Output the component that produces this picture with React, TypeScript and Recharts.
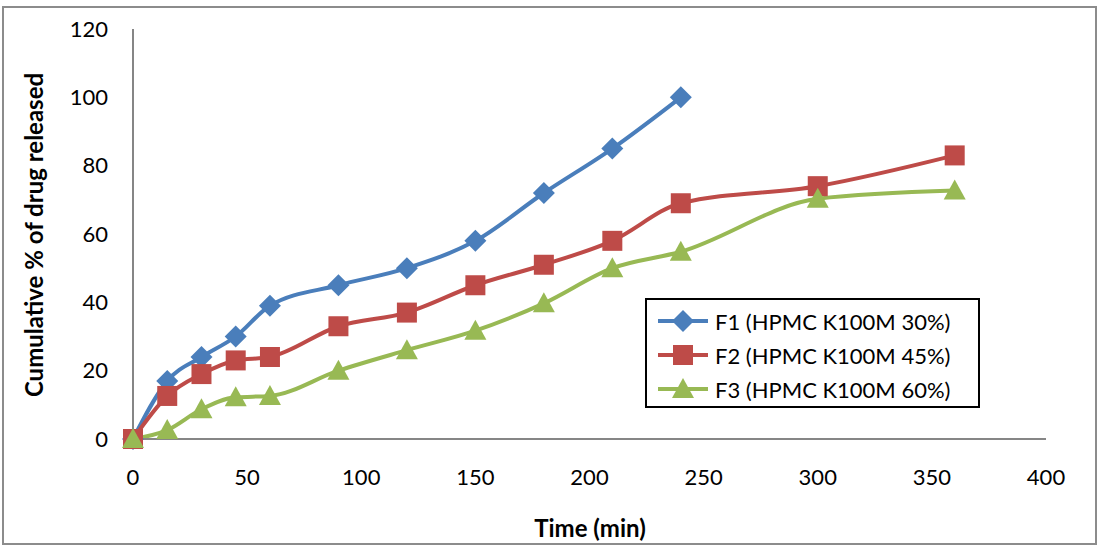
import React from "react";
import { LineChart, Line, XAxis, YAxis } from "recharts";

const times = [0, 15, 30, 45, 60, 90, 120, 150, 180, 210, 240, 300, 360];
const f1 = [0, 17, 24, 30, 39, 45, 50, 58, 72, 85, 100];
const f2 = [0, 12.6, 19, 23, 24, 33, 37, 45, 51, 58, 69, 74, 83];
const f3 = [0, 2.6, 8.7, 12.2, 12.6, 20, 26, 31.7, 39.7, 50, 54.8, 70.3, 72.7];
const xTicks = [0, 50, 100, 150, 200, 250, 300, 350, 400];
const yTicks = [0, 20, 40, 60, 80, 100, 120];

const names = ["F1 (HPMC K100M 30%)", "F2 (HPMC K100M 45%)", "F3 (HPMC K100M 60%)"];
const colors = ["#4A7EBB", "#BE4B48", "#98B954"];

const data = times.map((t, i) => ({ t, f1: f1[i], f2: f2[i], f3: f3[i] }));

const FONT = "Lato, 'Open Sans', sans-serif";

function Marker({ kind, cx, cy, color }: { kind: number; cx: number; cy: number; color: string }) {
  if (cx == null || cy == null) return null;
  if (kind === 0) {
    const r = 11;
    return <polygon points={`${cx},${cy - r} ${cx + r},${cy} ${cx},${cy + r} ${cx - r},${cy}`} fill={color} />;
  }
  if (kind === 1) {
    const s = 10;
    return <rect x={cx - s} y={cy - s} width={s * 2} height={s * 2} fill={color} />;
  }
  const w = 11;
  return <polygon points={`${cx},${cy - 11} ${cx + w},${cy + 9} ${cx - w},${cy + 9}`} fill={color} />;
}

const dotFor = (kind: number) => (props: any) => (
  <Marker key={`${kind}-${props.index}`} kind={kind} cx={props.cx} cy={props.cy} color={colors[kind]} />
);

const LegendBox = () => (
  <div
    style={{
      position: "absolute",
      left: 645,
      top: 298,
      border: "2px solid #000",
      background: "#fff",
      width: 335,
      height: 110,
      boxSizing: "border-box",
      padding: "4px 0 0 8px",
      fontFamily: FONT,
      fontSize: 22,
      color: "#000",
    }}
  >
    {names.map((n, i) => (
      <div key={n} style={{ display: "flex", alignItems: "center", height: 34 }}>
        <svg width={56} height={26}>
          <line x1={3} y1={13} x2={53} y2={13} stroke={colors[i]} strokeWidth={4} />
          <Marker kind={i} cx={28} cy={13} color={colors[i]} />
        </svg>
        <span style={{ marginLeft: 4 }}>{n}</span>
      </div>
    ))}
  </div>
);

export default function App() {
  return (
    <div style={{ position: "absolute", left: 0, top: 0, width: 1099, height: 547, background: "#fff" }}>
      <div
        style={{
          position: "absolute",
          left: 2,
          top: 6,
          width: 1095,
          height: 539,
          border: "2px solid #8c8c8c",
          boxSizing: "border-box",
        }}
      />
      <LineChart
        width={1099}
        height={547}
        data={data}
        margin={{ top: 29, right: 53, bottom: 0, left: 43 }}
        style={{ position: "absolute", left: 0, top: 0 }}
      >
        <XAxis
          dataKey="t"
          type="number"
          domain={[0, 400]}
          ticks={xTicks}
          tickSize={0}
          tickMargin={30}
          axisLine={{ stroke: "#868686", strokeWidth: 2 }}
          tick={{ fill: "#000", fontSize: 22, fontFamily: FONT }}
          height={108}
        />
        <YAxis
          type="number"
          domain={[0, 120]}
          ticks={yTicks}
          width={90}
          tickSize={0}
          tickMargin={25}
          axisLine={{ stroke: "#868686", strokeWidth: 2 }}
          tick={{ fill: "#000", fontSize: 22, fontFamily: FONT }}
        />
        <Line type="monotone" dataKey="f1" name={names[0]} stroke={colors[0]} strokeWidth={4} dot={dotFor(0)} activeDot={false} isAnimationActive={false} connectNulls />
        <Line type="monotone" dataKey="f2" name={names[1]} stroke={colors[1]} strokeWidth={4} dot={dotFor(1)} activeDot={false} isAnimationActive={false} />
        <Line type="monotone" dataKey="f3" name={names[2]} stroke={colors[2]} strokeWidth={4} dot={dotFor(2)} activeDot={false} isAnimationActive={false} />
      </LineChart>
      <LegendBox />
      <div
        style={{
          position: "absolute",
          left: 590,
          top: 527,
          transform: "translate(-50%, -50%)",
          fontFamily: FONT,
          fontWeight: "bold",
          fontSize: 24,
          whiteSpace: "nowrap",
        }}
      >
        Time (min)
      </div>
      <div
        style={{
          position: "absolute",
          left: 33,
          top: 235,
          transform: "translate(-50%, -50%) rotate(-90deg)",
          fontFamily: FONT,
          fontWeight: "bold",
          fontSize: 24,
          whiteSpace: "nowrap",
        }}
      >
        Cumulative % of drug released
      </div>
    </div>
  );
}
